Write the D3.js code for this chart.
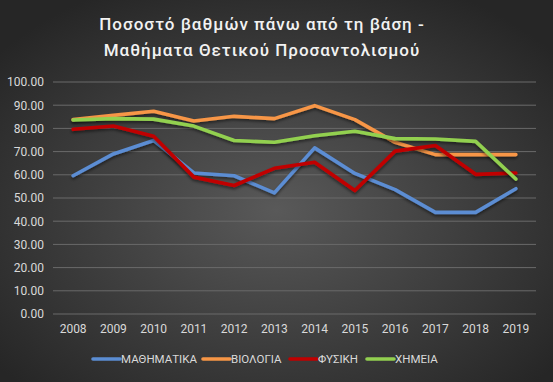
<!DOCTYPE html>
<html><head><meta charset="utf-8">
<script src="https://cdn.jsdelivr.net/npm/d3@7"></script>
<style>body{margin:0;background:#2a2a2a}svg{display:block}</style>
</head><body><div id="c"></div>
<script>
const years = ["2008","2009","2010","2011","2012","2013","2014","2015","2016","2017","2018","2019"];
const mathematics = [59.6, 69.0, 74.8, 60.8, 59.6, 52.2, 71.6, 60.6, 53.6, 43.8, 43.8, 54.0];
const biology     = [83.8, 85.6, 87.4, 83.2, 85.2, 84.2, 89.8, 83.8, 74.0, 68.7, 68.7, 68.7];
const physics     = [79.6, 81.0, 76.6, 59.0, 55.4, 62.8, 65.4, 53.2, 70.2, 72.6, 60.2, 60.8];
const chemistry   = [83.6, 84.2, 84.0, 81.0, 74.8, 74.0, 76.8, 78.8, 75.6, 75.4, 74.4, 58.2];
const seriesNames = ["ΜΑΘΗΜΑΤΙΚΑ","ΒΙΟΛΟΓΙΑ","ΦΥΣΙΚΗ","ΧΗΜΕΙΑ"];
const seriesColors = ["#5B8DD3","#F79646","#C00000","#92D050"];
const yTicks = [0,10,20,30,40,50,60,70,80,90,100];
const titleLines = ["Ποσοστό βαθμών πάνω από τη βάση -","Μαθήματα Θετικού Προσαντολισμού"];

const W=553,H=382;
const svg=d3.select("#c").append("svg").attr("width",W).attr("height",H);
const defs=svg.append("defs");
const g=defs.append("radialGradient").attr("id","bg").attr("cx","50%").attr("cy","55%").attr("r","65%");
g.append("stop").attr("offset","0%").attr("stop-color","#595959");
g.append("stop").attr("offset","100%").attr("stop-color","#262626");
svg.append("rect").attr("width",W).attr("height",H).attr("fill","url(#bg)");

const font="Roboto, Open Sans, sans-serif";
svg.selectAll("text.title").data(titleLines).join("text")
  .attr("x",262).attr("y",(d,i)=>30+i*26).attr("text-anchor","middle")
  .attr("fill","#f2f2f2").attr("font-family",font).attr("font-size",17)
  .attr("font-weight",500).attr("letter-spacing",1.0).text(d=>d);

const x=d3.scaleBand().domain(years).range([53,536]);
const y=d3.scaleLinear().domain([0,100]).range([314,82]);

const grid=svg.append("g");
grid.selectAll("line").data(yTicks).join("line")
  .attr("x1",53).attr("x2",536).attr("y1",d=>y(d)).attr("y2",d=>y(d))
  .attr("stroke","#6a6a6a").attr("stroke-width",1);

const yAxis=svg.append("g").attr("transform","translate(44,0)")
  .call(d3.axisLeft(y).tickValues(yTicks).tickFormat(d3.format(".2f")).tickSize(0).tickPadding(0));
yAxis.select(".domain").remove();
yAxis.selectAll("text").attr("fill","#d9d9d9").attr("font-family",font).attr("font-size",12);

const xAxis=svg.append("g").attr("transform","translate(0,322)")
  .call(d3.axisBottom(x).tickSize(0).tickPadding(0));
xAxis.select(".domain").remove();
xAxis.selectAll("text").attr("fill","#d9d9d9").attr("font-family",font).attr("font-size",12).attr("dy","0.9em");

const data=[mathematics,biology,physics,chemistry];
const line=d3.line().x((d,i)=>x(years[i])+x.bandwidth()/2).y(d=>y(d));
const shadow=defs.append("filter").attr("id","sh").attr("x","-10%").attr("y","-10%").attr("width","120%").attr("height","130%");
shadow.append("feDropShadow").attr("dx",0).attr("dy",2).attr("stdDeviation",1.5).attr("flood-color","#000").attr("flood-opacity",0.5);
svg.append("g").selectAll("path").data(data).join("path")
  .attr("d",line).attr("fill","none").attr("stroke",(d,i)=>seriesColors[i])
  .attr("stroke-width",3.6).attr("stroke-linejoin","round").attr("stroke-linecap","round")
  .attr("filter","url(#sh)");

const legX=[93,203,290,367];
const leg=svg.append("g").selectAll("g").data(seriesNames).join("g")
  .attr("transform",(d,i)=>`translate(${legX[i]},359)`);
leg.append("line").attr("x1",0).attr("x2",27).attr("stroke",(d,i)=>seriesColors[i]).attr("stroke-width",3.6).attr("stroke-linecap","round");
leg.append("text").attr("x",28).attr("dy","0.35em").attr("fill","#d9d9d9").attr("font-family",font).attr("font-size",11.5).text(d=>d);
</script></body></html>
